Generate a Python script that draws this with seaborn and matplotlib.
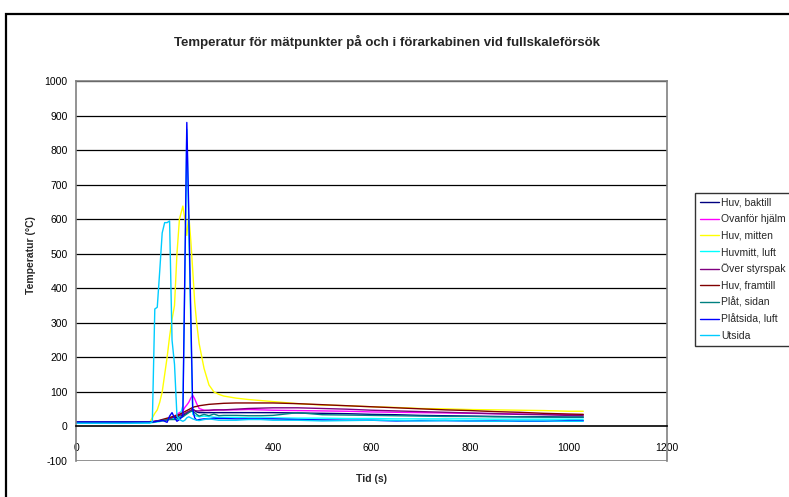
import matplotlib
matplotlib.use("Agg")
import matplotlib.pyplot as plt
import matplotlib.patches as mpatches
import seaborn as sns
import pandas as pd

# ---------------- data ----------------
tid = [0, 50, 100, 150, 155, 160, 165, 170, 175, 180, 185, 190, 195, 200, 205, 210,
       217, 221, 225, 229, 233, 237, 241, 245, 250, 260, 270, 280, 290, 300, 325, 350,
       375, 400, 450, 500, 550, 600, 650, 700, 750, 800, 850, 900, 950, 1000, 1030]

huv_baktill = [13, 13, 13, 13, 13, 14, 15, 16, 17, 18, 19, 21, 23, 25, 27, 29,
               32, 35, 38, 42, 46, 50, 46, 42, 40, 40, 40, 40, 40, 40, 40, 40,
               40, 40, 39, 38, 37, 35, 34, 32, 31, 30, 29, 28, 28, 27, 27]
ovanfor_hjalm = [13, 13, 13, 13, 14, 15, 16, 17, 18, 19, 20, 22, 26, 30, 35, 40,
                 45, 55, 62, 70, 82, 90, 80, 66, 52, 47, 46, 47, 48, 48, 48, 49,
                 48, 47, 46, 45, 44, 42, 41, 40, 39, 38, 37, 36, 35, 34, 34]
huv_mitten = [12, 12, 12, 13, 25, 38, 48, 70, 100, 150, 200, 260, 310, 350, 500, 600,
              638, 600, 553, 612, 540, 452, 360, 300, 240, 168, 120, 100, 93, 88, 82, 78,
              75, 72, 66, 62, 60, 57, 55, 52, 51, 49, 48, 47, 46, 44, 44]
huvmitt_luft = [10, 10, 10, 10, 11, 12, 13, 14, 16, 18, 20, 22, 24, 22, 20, 24,
                60, 420, 860, 580, 300, 35, 32, 30, 28, 30, 28, 27, 26, 26, 26, 25,
                25, 25, 24, 24, 23, 23, 22, 22, 22, 22, 21, 21, 21, 21, 21]
over_styrspak = [12, 12, 12, 12, 13, 14, 15, 16, 17, 18, 20, 22, 25, 28, 30, 32,
                 35, 38, 41, 44, 46, 48, 46, 45, 45, 46, 47, 48, 48, 48, 50, 52,
                 53, 54, 54, 52, 50, 47, 45, 43, 41, 39, 37, 35, 34, 32, 31]
huv_framtill = [13, 13, 13, 13, 14, 15, 16, 18, 20, 22, 24, 26, 28, 30, 32, 35,
                40, 43, 46, 49, 52, 55, 57, 58, 60, 62, 64, 65, 66, 67, 68, 68,
                68, 68, 66, 63, 60, 57, 54, 51, 48, 46, 43, 41, 38, 36, 35]
plat_sidan = [12, 12, 12, 12, 13, 14, 15, 16, 17, 18, 19, 20, 20, 20, 22, 25,
              28, 32, 36, 40, 43, 45, 40, 35, 30, 35, 31, 36, 31, 32, 32, 31,
              31, 32, 40, 34, 33, 32, 31, 30, 29, 29, 28, 28, 27, 27, 27]
platsida_luft = [13, 13, 13, 13, 13, 14, 15, 16, 18, 15, 12, 30, 40, 25, 15, 20,
                 30, 450, 880, 620, 330, 50, 25, 18, 20, 22, 22, 24, 23, 23, 22, 22,
                 22, 22, 20, 19, 18, 18, 16, 17, 17, 16, 16, 15, 15, 17, 17]
utsida = [9, 9, 9, 10, 14, 340, 345, 450, 560, 590, 590, 595, 250, 180, 30, 20,
          15, 18, 25, 28, 25, 22, 20, 18, 17, 20, 22, 20, 18, 18, 18, 20,
          20, 18, 18, 16, 17, 18, 17, 16, 17, 16, 15, 16, 16, 15, 15]

serie_namn = ["Huv, baktill", "Ovanför hjälm", "Huv, mitten", "Huvmitt, luft",
              "Över styrspak", "Huv, framtill", "Plåt, sidan", "Plåtsida, luft", "Utsida"]
serie_varden = [huv_baktill, ovanfor_hjalm, huv_mitten, huvmitt_luft, over_styrspak,
                huv_framtill, plat_sidan, platsida_luft, utsida]
farger = ["#000080", "#FF00FF", "#FFFF00", "#00FFFF", "#800080",
          "#800000", "#008080", "#0000FF", "#00CCFF"]

y_ticks = [-100, 0, 100, 200, 300, 400, 500, 600, 700, 800, 900, 1000]
x_ticks = [0, 200, 400, 600, 800, 1000, 1200]

# ---------------- build long table ----------------
rows = []
for namn, vals in zip(serie_namn, serie_varden):
    for t, v in zip(tid, vals):
        rows.append({"Tid": t, "Temperatur": v, "Serie": namn})
df = pd.DataFrame(rows)

# ---------------- plot ----------------
sns.set_style("white")
plt.rcParams["font.family"] = ["Liberation Sans", "DejaVu Sans"]
plt.rcParams["axes.unicode_minus"] = False

W, H = 789, 497
fig = plt.figure(figsize=(W / 100, H / 100), dpi=100)
ax = fig.add_axes([76 / W, 1 - 461 / H, (667 - 76) / W, (461 - 81) / H])

sns.lineplot(data=df, x="Tid", y="Temperatur", hue="Serie", hue_order=serie_namn,
             palette=dict(zip(serie_namn, farger)), estimator=None, sort=False,
             linewidth=1.0, ax=ax, legend=True)

ax.set_xlim(0, 1200)
ax.set_ylim(-100, 1000)
ax.set_yticks(y_ticks)
ax.set_xticks(x_ticks)
ax.tick_params(axis="both", labelsize=7.5, colors="black")
ax.tick_params(axis="y", direction="out", length=4, width=1, color="#808080", pad=2)
ax.tick_params(axis="x", direction="out", length=4, width=1, color="black", pad=8)

for y in y_ticks[2:]:
    ax.axhline(y, color="black", lw=0.9, zorder=0)
ax.axhline(-100, color="#808080", lw=1.2, zorder=0)

ax.spines["bottom"].set_position(("data", 0))
ax.spines["bottom"].set_color("black")
ax.spines["bottom"].set_linewidth(1.2)
for s in ["left", "top", "right"]:
    ax.spines[s].set_color("#808080")
    ax.spines[s].set_linewidth(1.2)
    ax.spines[s].set_visible(True)

ax.set_xlabel("")
ax.set_ylabel("")
fig.text(31 / W, 1 - 255 / H, "Temperatur (°C)", rotation=90, ha="center", va="center",
         fontsize=7.5, fontweight="bold")
fig.text(372 / W, 1 - 479 / H, "Tid (s)", ha="center", va="center",
         fontsize=7.5, fontweight="bold")
fig.text(387 / W, 1 - 42 / H, "Temperatur för mätpunkter på och i förarkabinen vid fullskaleförsök",
         ha="center", va="center", fontsize=9.5, fontweight="bold")

handles, labels = ax.get_legend_handles_labels()
ax.get_legend().remove()
leg = fig.legend(handles, labels, loc="upper left", bbox_to_anchor=(695 / W, 1 - 193 / H),
                 fontsize=7.5, frameon=True, fancybox=False, shadow=False,
                 handlelength=1.9, handletextpad=0.15, borderpad=0.45,
                 labelspacing=0.62, borderaxespad=0)
leg.get_frame().set_edgecolor("black")
leg.get_frame().set_linewidth(1.0)
for h in leg.legend_handles:
    h.set_linewidth(1.0)

# outer chart border (extends beyond the image at right and bottom)
fig.patches.append(mpatches.Rectangle((6 / W, -0.1), 1.2, 1.1 - 14 / H,
                                      transform=fig.transFigure, fill=False,
                                      edgecolor="black", linewidth=1.6))

fig.savefig("out.png", dpi=100)
